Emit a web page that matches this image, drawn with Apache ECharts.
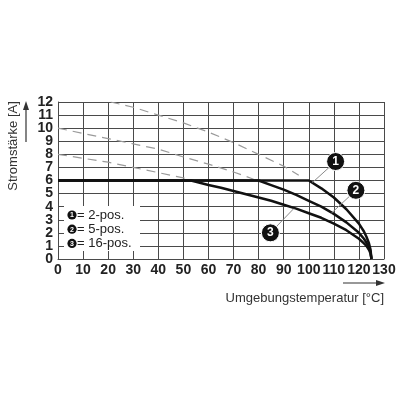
<!DOCTYPE html>
<html lang="de">
<head>
    <meta charset="UTF-8">
    <title>Derating</title>
    <script type="text/javascript" src="https://cdn.jsdelivr.net/npm/echarts@6/dist/echarts.min.js"></script>
    <style>
        html, body { margin: 0; padding: 0; background: #fff; }
        #chart { width: 400px; height: 400px; }
    </style>
</head>
<body>
<div id="chart"></div>
<script>
    // Werte: [Temperatur °C, Strom A]
    var curve2pos = [[0, 6], [100, 6], [105, 5.4], [110, 4.7], [115, 3.8], [120, 2.7], [122, 2.1], [123, 1.7], [124, 1.2], [124.6, 0.75], [125, 0]];
    var curve5pos = [[0, 6], [80, 6], [85, 5.65], [90, 5.3], [95, 4.9], [100, 4.45], [105, 4.0], [110, 3.45], [115, 2.8], [120, 2.0], [122, 1.55], [123, 1.25], [124, 0.9], [124.6, 0.57], [125, 0]];
    var curve16pos = [[0, 6], [53, 6], [55, 5.9], [60, 5.65], [65, 5.45], [70, 5.2], [75, 4.95], [80, 4.7], [85, 4.45], [90, 4.15], [95, 3.85], [100, 3.5], [105, 3.15], [110, 2.7], [115, 2.2], [120, 1.55], [122, 1.2], [123, 1.0], [124, 0.7], [124.6, 0.44], [125, 0]];
    var dashed2pos = [[21, 12], [30, 11.6], [40, 11.0], [50, 10.4], [60, 9.7], [70, 8.9], [80, 8.0], [90, 7.1], [96, 6.4]];
    var dashed5pos = [[0, 10], [10, 9.6], [20, 9.2], [30, 8.8], [40, 8.4], [50, 7.8], [60, 7.25], [70, 6.65], [78, 6.1]];
    var dashed16pos = [[0, 8], [10, 7.7], [20, 7.4], [30, 7.0], [40, 6.6], [50, 6.2], [53, 6.05]];

    var calloutLabels = ['1', '2', '3'];
    var calloutPos = [[110.7, 7.45], [118.8, 5.25], [84.7, 2.0]];
    var calloutTargets = [[101.5, 5.85], [109, 3.5], [94, 3.85]];

    var legendTexts = ['= 2-pos.', '= 5-pos.', '= 16-pos.'];

    var xMin = 0, xMax = 130, xStep = 10;
    var yMin = 0, yMax = 12, yStep = 1;

    var gridColor = '#4a4a4a';
    var chart = echarts.init(document.getElementById('chart'), null, {renderer: 'canvas'});

    var series = [];
    [dashed2pos, dashed5pos, dashed16pos].forEach(function (d) {
        series.push({
            type: 'line', data: d, showSymbol: false, silent: true, z: 3,
            lineStyle: {color: '#9a9a9a', width: 1.2, type: [9, 6]}
        });
    });
    [curve2pos, curve5pos, curve16pos].forEach(function (d) {
        series.push({
            type: 'line', data: d, showSymbol: false, silent: true, z: 4,
            lineStyle: {color: '#111', width: 2.5}
        });
    });
    calloutPos.forEach(function (p, i) {
        series.push({
            type: 'line', data: [p, calloutTargets[i]], showSymbol: false, silent: true, z: 5,
            lineStyle: {color: '#8a8a8a', width: 1}
        });
    });
    series.push({
        type: 'scatter', z: 6, silent: true,
        symbolSize: 18,
        itemStyle: {color: '#111', opacity: 1, borderColor: '#fff', borderWidth: 1},
        label: {
            show: true, position: 'inside', color: '#fff', fontSize: 12, fontWeight: 'bold',
            fontFamily: 'Liberation Sans',
            formatter: function (p) { return calloutLabels[p.dataIndex]; }
        },
        data: calloutPos
    });

    // Legende unten links im Diagramm
    var legendEls = [{type: 'rect', z: 100, shape: {x: 64, y: 206, width: 76, height: 45}, style: {fill: '#fff'}}];
    legendTexts.forEach(function (t, i) {
        var cy = 215 + i * 14.2;
        legendEls.push({type: 'circle', z: 101, shape: {cx: 72, cy: cy, r: 4.6}, style: {fill: '#111'}});
        legendEls.push({type: 'text', z: 102, x: 72, y: cy + 0.5, style: {text: calloutLabels[i], fill: '#fff', font: 'bold 7px "Liberation Sans"', align: 'center', verticalAlign: 'middle'}});
        legendEls.push({type: 'text', z: 102, x: 77, y: cy, style: {text: t, fill: '#222', font: '13px "Liberation Sans"', verticalAlign: 'middle'}});
    });

    // y-Beschriftung auf zwei Achsen verteilt (gerade / ungerade), damit keine ausgeblendet wird
    function yAxisDef(parity, main) {
        return {
            type: 'value', min: yMin, max: yMax, interval: yStep, position: 'left', offset: 0,
            axisLine: {show: main, lineStyle: {color: gridColor, width: 1}},
            axisTick: {show: false},
            axisLabel: {color: '#222', fontSize: 14, fontWeight: 'bold', fontFamily: 'Liberation Sans', margin: 5,
                showMinLabel: true, showMaxLabel: true, hideOverlap: false,
                formatter: function (v) { return (v % 2 === parity) ? String(v) : ''; }},
            splitLine: {show: main, lineStyle: {color: gridColor, width: 1}}
        };
    }

    var option = {
        animation: false,
        backgroundColor: '#fff',
        grid: {left: 58, right: 16, top: 102, bottom: 141, containLabel: false},
        xAxis: {
            type: 'value', min: xMin, max: xMax, interval: xStep,
            axisLine: {show: true, lineStyle: {color: gridColor, width: 1}},
            axisTick: {show: false},
            axisLabel: {color: '#222', fontSize: 14, fontWeight: 'bold', fontFamily: 'Liberation Sans', margin: 4,
                showMinLabel: true, showMaxLabel: true, hideOverlap: false},
            splitLine: {show: true, lineStyle: {color: gridColor, width: 1}}
        },
        yAxis: [yAxisDef(0, true), yAxisDef(1, false)],
        graphic: [
            {type: 'group', z: 100, children: legendEls},
            {type: 'text', x: 13, y: 146, rotation: Math.PI / 2,
                style: {text: 'Stromstärke [A]', fill: '#333', font: '13px "Liberation Sans"', align: 'center', verticalAlign: 'middle'}},
            {type: 'line', shape: {x1: 26, y1: 142, x2: 26, y2: 108}, style: {stroke: '#333', lineWidth: 1.2}},
            {type: 'polygon', shape: {points: [[26, 101], [23, 110], [29, 110]]}, style: {fill: '#333'}},
            {type: 'line', shape: {x1: 343, y1: 283, x2: 378, y2: 283}, style: {stroke: '#333', lineWidth: 1.2}},
            {type: 'polygon', shape: {points: [[385, 283], [376, 280], [376, 286]]}, style: {fill: '#333'}},
            {type: 'text', x: 384, y: 298,
                style: {text: 'Umgebungstemperatur [°C]', fill: '#333', font: '13px "Liberation Sans"', align: 'right', verticalAlign: 'middle'}}
        ],
        series: series
    };
    chart.setOption(option);
</script>
</body>
</html>
